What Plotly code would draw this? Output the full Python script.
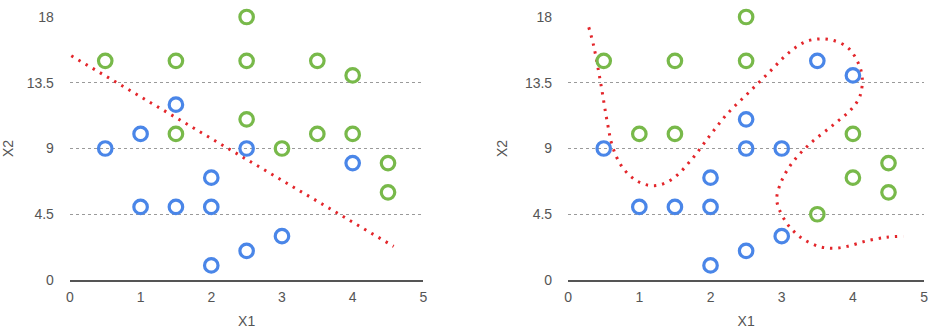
import plotly.graph_objects as go
from plotly.subplots import make_subplots

# Left panel: two classes separated by a linear boundary
left_green_x = [0.5, 1.5, 2.5, 2.5, 3.5, 4.0, 2.5, 1.5, 3.5, 4.0, 3.0, 4.5, 4.5]
left_green_y = [15, 15, 18, 15, 15, 14, 11, 10, 10, 10, 9, 8, 6]
left_blue_x = [0.5, 1.0, 1.5, 2.5, 4.0, 2.0, 1.0, 1.5, 2.0, 3.0, 2.5, 2.0]
left_blue_y = [9, 10, 12, 9, 8, 7, 5, 5, 5, 3, 2, 1]
left_boundary_x = [0.02, 4.58]
left_boundary_y = [15.35, 2.3]

# Right panel: same layout with some labels changed, nonlinear boundary
right_green_x = [0.5, 1.5, 2.5, 2.5, 1.0, 1.5, 4.0, 4.5, 4.0, 4.5, 3.5]
right_green_y = [15, 15, 18, 15, 10, 10, 10, 8, 7, 6, 4.5]
right_blue_x = [3.5, 4.0, 2.5, 0.5, 2.5, 3.0, 2.0, 1.0, 1.5, 2.0, 3.0, 2.5, 2.0]
right_blue_y = [15, 14, 11, 9, 9, 9, 7, 5, 5, 5, 3, 2, 1]
right_boundary_x = [0.29, 0.36, 0.46, 0.55, 0.62, 0.75, 0.96, 1.21, 1.46, 1.74,
                    1.99, 2.24, 2.53, 2.82, 3.11, 3.33, 3.52, 3.72, 3.93, 4.07,
                    4.13, 4.10, 3.98, 3.72, 3.41, 3.16, 3.00, 2.93, 2.96, 3.09,
                    3.28, 3.52, 3.72, 3.92, 4.19, 4.46, 4.71]
right_boundary_y = [17.3, 16.0, 13.4, 10.8, 9.2, 7.8, 6.8, 6.45, 6.9, 8.28,
                    9.88, 11.4, 12.8, 14.2, 15.6, 16.3, 16.5, 16.4, 15.9, 14.9,
                    13.9, 12.6, 11.7, 10.6, 9.38, 8.1, 6.8, 5.6, 4.9, 3.76,
                    2.87, 2.3, 2.17, 2.3, 2.67, 2.92, 2.99]

x_ticks = [0, 1, 2, 3, 4, 5]
y_ticks = [0, 4.5, 9, 13.5, 18]
y_tick_text = ["0", "4.5", "9", "13.5", "18"]

BLUE = "#4a86e8"
GREEN = "#78b94a"
RED = "#e3262b"
TEXT = "#555555"
FONT = "Liberation Sans, Arial, sans-serif"

fig = make_subplots(rows=1, cols=2)


def add_panel(col, gx, gy, bx, by, lx, ly, shape):
    fig.add_trace(go.Scatter(
        x=lx, y=ly, mode="lines", line_shape=shape,
        line=dict(color=RED, width=3, dash="2.4px,5.9px"),
        hoverinfo="skip", cliponaxis=False), row=1, col=col)
    for xs, ys, c in ((gx, gy, GREEN), (bx, by, BLUE)):
        fig.add_trace(go.Scatter(
            x=xs, y=ys, mode="markers", cliponaxis=False,
            marker=dict(symbol="circle-open", size=13.5, color=c,
                        line=dict(width=3.2, color=c))), row=1, col=col)


add_panel(1, left_green_x, left_green_y, left_blue_x, left_blue_y,
          left_boundary_x, left_boundary_y, "linear")
add_panel(2, right_green_x, right_green_y, right_blue_x, right_blue_y,
          right_boundary_x, right_boundary_y, "spline")

axis_font = dict(family=FONT, size=14, color=TEXT)
for col, dom in ((1, [0.0710, 0.4519]), (2, [0.6079, 0.9915])):
    fig.update_xaxes(
        row=1, col=col, domain=dom, range=[0, 5], tickvals=x_ticks,
        showgrid=False, zeroline=False, showline=True, linecolor="#555555",
        linewidth=2, ticks="", tickfont=axis_font, ticklabelstandoff=3,
        title=dict(text="X1", font=axis_font, standoff=12))
    fig.update_yaxes(
        row=1, col=col, domain=[0, 1], range=[0, 18], tickvals=y_ticks,
        ticktext=y_tick_text, showgrid=True, gridcolor="#9a9a9a",
        griddash="dot", gridwidth=1, zeroline=False, showline=False,
        ticks="", tickfont=axis_font, ticklabelstandoff=15,
        title=dict(text="X2", font=axis_font, standoff=13))

fig.update_layout(
    width=936, height=333, showlegend=False,
    margin=dict(l=0, r=0, t=17, b=53),
    paper_bgcolor="white", plot_bgcolor="white",
    font=dict(family=FONT, color=TEXT))

fig.write_html("out.html")
